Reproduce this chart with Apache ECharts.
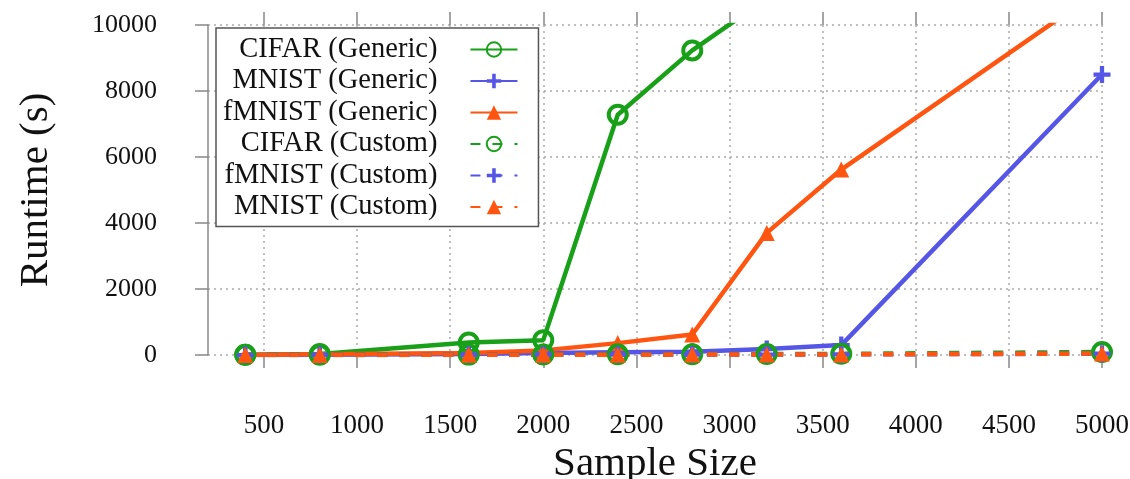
<!DOCTYPE html>
<html>
<head>
<meta charset="utf-8">
<script src="https://cdn.jsdelivr.net/npm/echarts@6/dist/echarts.min.js"></script>
<style>
html,body{margin:0;padding:0;background:#fff;}
#chart{width:1130px;height:479px;}
</style>
</head>
<body>
<div id="chart"></div>
<script>
// ---- data ----
const sampleSizes = [400, 800, 1600, 2000, 2400, 2800, 3200, 3600, 5000];
const cifarGeneric = [10, 30, 380, 450, 7280, 9230, 10800];
const mnistGeneric = [0, 10, 30, 60, 80, 100, 180, 300, 8500];
const fmnistGeneric = [0, 20, 60, 140, 360, 620, 3700, 5620, 11100];
const cifarCustom = [5, 8, 12, 15, 20, 25, 30, 35, 90];
const fmnistCustom = [0, 2, 5, 8, 10, 12, 15, 18, 40];
const mnistCustom = [0, 2, 5, 8, 10, 12, 15, 18, 45];
const xTickValues = [500, 1000, 1500, 2000, 2500, 3000, 3500, 4000, 4500, 5000];
const seriesNames = ['CIFAR (Generic)', 'MNIST (Generic)', 'fMNIST (Generic)', 'CIFAR (Custom)', 'fMNIST (Custom)', 'MNIST (Custom)'];

const GREEN = '#18a018';
const BLUE = '#5656e6';
const ORANGE = '#ff5511';
const FONT = "'Liberation Serif', 'Times New Roman', serif";
const PLUS = 'path://M6,0 H10 V6 H16 V10 H10 V16 H6 V10 H0 V6 H6 Z';

function pairs(vals) { return vals.map((v, i) => [sampleSizes[i], v]); }

function mk(name, vals, color, symbol, dashed) {
  const isCircle = symbol === 'circle';
  return {
    name: name,
    type: 'line',
    data: pairs(vals),
    color: color,
    symbol: symbol,
    symbolSize: isCircle ? 18 : (symbol === 'triangle' ? 16 : 17),
    showAllSymbol: true,
    clip: true,
    lineStyle: { color: color, width: 4.5, type: dashed ? [10, 12] : 'solid' },
    itemStyle: isCircle ? { color: 'rgba(255,255,255,0)', borderColor: color, borderWidth: 4 } : { color: color, borderWidth: 0 },
    emphasis: { disabled: true }
  };
}

const chart = echarts.init(document.getElementById('chart'), null, { renderer: 'canvas' });
const gridLine = { show: true, lineStyle: { color: '#aaa', width: 1.5, type: [2, 4] } };
const tickStyle = { color: '#888', width: 1.5 };
const plain = v => String(v);

chart.setOption({
  animation: false,
  backgroundColor: '#fff',
  textStyle: { fontFamily: FONT },
  grid: { left: 208, right: 28, top: 25, bottom: 124, outerBoundsMode: 'none', containLabel: false },
  legend: {
    data: seriesNames,
    orient: 'vertical',
    align: 'right',
    left: 216,
    top: 28,
    itemWidth: 47,
    itemHeight: 18,
    itemGap: 2.5,
    padding: [7, 20, 5, 7],
    backgroundColor: '#fff',
    borderColor: '#555',
    borderWidth: 1.5,
    borderRadius: 0,
    selectedMode: false,
    textStyle: { fontFamily: FONT, fontSize: 28.5, color: '#111', padding: [0, 28, 0, 0] }
  },
  xAxis: [{
    type: 'value',
    position: 'bottom',
    min: 200,
    max: 5000,
    name: 'Sample Size',
    nameLocation: 'middle',
    nameGap: 77,
    nameTextStyle: { fontFamily: FONT, fontSize: 41, color: '#111' },
    axisLine: { show: false },
    axisTick: { show: true, customValues: xTickValues, length: 13, lineStyle: tickStyle },
    axisLabel: { customValues: xTickValues, margin: 57, fontFamily: FONT, fontSize: 27, color: '#111', formatter: plain },
    splitLine: gridLine
  }, {
    type: 'value',
    position: 'top',
    min: 200,
    max: 5000,
    axisLine: { show: false },
    axisTick: { show: true, customValues: xTickValues, length: 13, lineStyle: tickStyle },
    axisLabel: { show: false },
    splitLine: { show: false }
  }],
  yAxis: {
    type: 'value',
    min: 0,
    max: 10000,
    interval: 2000,
    name: 'Runtime (s)',
    nameLocation: 'middle',
    nameGap: 151,
    nameTextStyle: { fontFamily: FONT, fontSize: 41, color: '#111' },
    axisLine: { show: true, lineStyle: { color: '#888', width: 1.5 } },
    axisTick: { show: true, length: 13, lineStyle: tickStyle },
    axisLabel: { margin: 51, fontFamily: FONT, fontSize: 26, color: '#111', formatter: plain },
    splitLine: gridLine
  },
  series: [
    mk(seriesNames[0], cifarGeneric, GREEN, 'circle', false),
    mk(seriesNames[1], mnistGeneric, BLUE, PLUS, false),
    mk(seriesNames[2], fmnistGeneric, ORANGE, 'triangle', false),
    mk(seriesNames[3], cifarCustom, GREEN, 'circle', true),
    mk(seriesNames[4], fmnistCustom, BLUE, PLUS, true),
    mk(seriesNames[5], mnistCustom, ORANGE, 'triangle', true)
  ]
});
</script>
</body>
</html>
